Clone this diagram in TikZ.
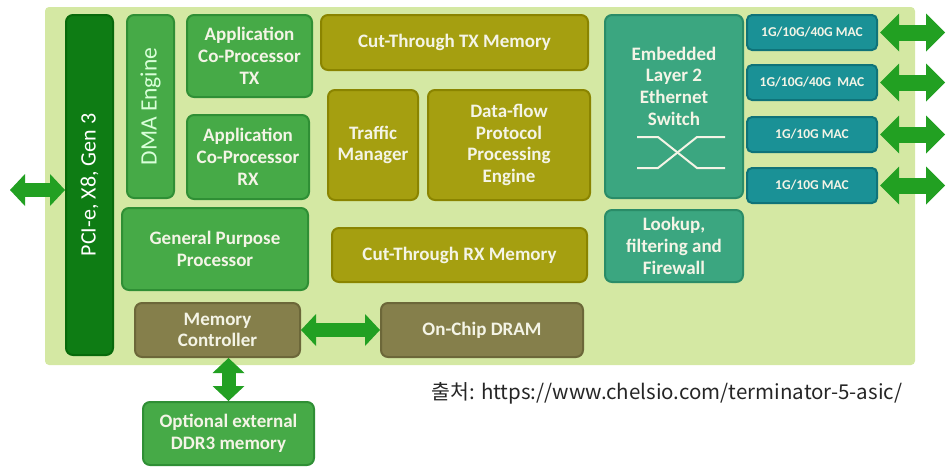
\documentclass[tikz,border=0pt]{standalone}
\usepackage{fontspec}
\setmainfont{Carlito}
\newfontfamily\krfont{Noto Sans CJK KR}
\usetikzlibrary{arrows.meta}
\definecolor{boardfill}{HTML}{D4E8A3}
\definecolor{pciefill}{HTML}{0E7C14}
\definecolor{pciedraw}{HTML}{076A0B}
\definecolor{grnfill}{HTML}{46AA47}
\definecolor{grndraw}{HTML}{2F8F35}
\definecolor{olvfill}{HTML}{A59F10}
\definecolor{olvdraw}{HTML}{8A8400}
\definecolor{brnfill}{HTML}{857F4B}
\definecolor{brndraw}{HTML}{6C6739}
\definecolor{tealfill}{HTML}{3BA680}
\definecolor{tealdraw}{HTML}{2A8C68}
\definecolor{macfill}{HTML}{1A9196}
\definecolor{macdraw}{HTML}{0F7379}
\definecolor{arrowgreen}{HTML}{22A022}
\definecolor{boxtext}{HTML}{F4F4E6}

\begin{document}
\begin{tikzpicture}[x=1pt,y=-1pt,
    blk/.style={rounded corners=7pt, line width=2pt, inner sep=0pt, align=center,
      text=boxtext, font=\bfseries\fontsize{19}{21.7}\selectfont},
    grnblk/.style={blk, fill=grnfill, draw=grndraw},
    olvblk/.style={blk, fill=olvfill, draw=olvdraw},
    brnblk/.style={blk, fill=brnfill, draw=brndraw},
    tealblk/.style={blk, fill=tealfill, draw=tealdraw},
    macblk/.style={blk, rounded corners=5pt, fill=macfill, draw=macdraw,
      minimum width=130pt, minimum height=35pt, font=\bfseries\fontsize{13.5}{16}\selectfont},
    barblk/.style={blk}]
  \useasboundingbox (0,0) rectangle (947,469);
  \fill[boardfill, rounded corners=4pt] (45,7) rectangle (915,365);

  % host side
  \begin{scope}
    \node[barblk, fill=pciefill, draw=pciedraw, minimum width=47pt, minimum height=340pt] (pcie) at (89.5,185) {};
    \node[rotate=90, text=white, font=\fontsize{22}{26}\selectfont] (pcietext) at (pcie) {PCI-e, X8, Gen 3};
    \node[barblk, fill=grnfill, draw=grndraw, minimum width=47pt, minimum height=183pt] (dma) at (150.5,106.5) {};
    \node[rotate=90, text=green!15!white, font=\fontsize{23.5}{26}\selectfont] (dmatext) at (dma) {DMA Engine};
    \node[grnblk, minimum width=125pt, minimum height=82pt] (apptx) at (249.5,56) {Application\\Co-Processor\\TX};
    \node[grnblk, minimum width=122pt, minimum height=84pt] (apprx) at (248,157) {Application\\Co-Processor\\RX};
    \node[grnblk, minimum width=186pt, minimum height=82pt] (gpp) at (215,249) {General Purpose\\Processor};
    \node[brnblk, minimum width=165pt, minimum height=54pt] (mc) at (217.5,330) {Memory\\Controller};
    \node[brnblk, minimum width=202pt, minimum height=54pt] (dram) at (482,330) {On-Chip DRAM};
    \node[grnblk, minimum width=171pt, minimum height=63pt] (ddr) at (228.5,433.5) {Optional external\\DDR3 memory};
  \end{scope}

  % protocol engine
  \begin{scope}
    \node[olvblk, minimum width=267pt, minimum height=55pt] (cttx) at (454.5,42.5) {Cut-Through TX Memory};
    \node[olvblk, minimum width=90pt, minimum height=110pt] (tm) at (373,145) {Traffic\\Manager};
    \node[olvblk, minimum width=162pt, minimum height=110pt] (dfe) at (509,145) {Data-flow\\Protocol\\Processing\\Engine};
    \node[olvblk, minimum width=255pt, minimum height=54pt] (ctrx) at (459.5,255) {Cut-Through RX Memory};
  \end{scope}

  % network side
  \begin{scope}
    \node[tealblk, minimum width=138pt, minimum height=183pt] (sw) at (674,106.5) {};
    \node[text=boxtext, font=\bfseries\fontsize{19}{21.7}\selectfont, align=center] (swtext) at (674,86) {Embedded\\Layer 2\\Ethernet\\Switch};
    \draw[boxtext, line width=2pt] (637,137) -- (658,137) -- (697,168) -- (725,168);
    \draw[boxtext, line width=2pt] (637,168) -- (658,168) -- (697,137) -- (725,137);
    \node[tealblk, minimum width=138pt, minimum height=72pt] (lookup) at (674,246) {Lookup,\\filtering and\\Firewall};
    \node[macblk] (mac1) at (812,32.5) {1G/10G/40G MAC};
    \node[macblk] (mac2) at (812,82.5) {1G/10G/40G\ \ MAC};
    \node[macblk] (mac3) at (812,134.5) {1G/10G MAC};
    \node[macblk] (mac4) at (812,185.5) {1G/10G MAC};
  \end{scope}

  \coordinate (pcieport) at (10,190);
  \coordinate (port1) at (945,32.5);
  \coordinate (port2) at (945,82.5);
  \coordinate (port3) at (945,134.5);
  \coordinate (port4) at (945,185.5);

  \begin{scope}[every edge/.style={draw=arrowgreen, line width=14pt,
      {Triangle[width=32pt,length=15pt,line width=0pt]}-{Triangle[width=32pt,length=15pt,line width=0pt]}}]
    \path (pcieport) edge (pcie.west |- pcieport);
    \path (mc.east) edge (dram.west);
    \path (ddr.north |- mc.south) edge (ddr.north);
  \end{scope}
  \begin{scope}[every edge/.style={draw=arrowgreen, line width=16pt,
      {Triangle[width=38pt,length=19pt,line width=0pt]}-{Triangle[width=38pt,length=19pt,line width=0pt]}}]
    \path ([xshift=2pt]mac1.east) edge (port1);
    \path ([xshift=2pt]mac2.east) edge (port2);
    \path ([xshift=2pt]mac3.east) edge (port3);
    \path ([xshift=2pt]mac4.east) edge (port4);
  \end{scope}

  \node[anchor=west, text=black!85, font=\krfont\fontsize{20.5}{24}\selectfont] (credit) at (428,393) {출처: https://www.chelsio.com/terminator-5-asic/};
\end{tikzpicture}
\end{document}
